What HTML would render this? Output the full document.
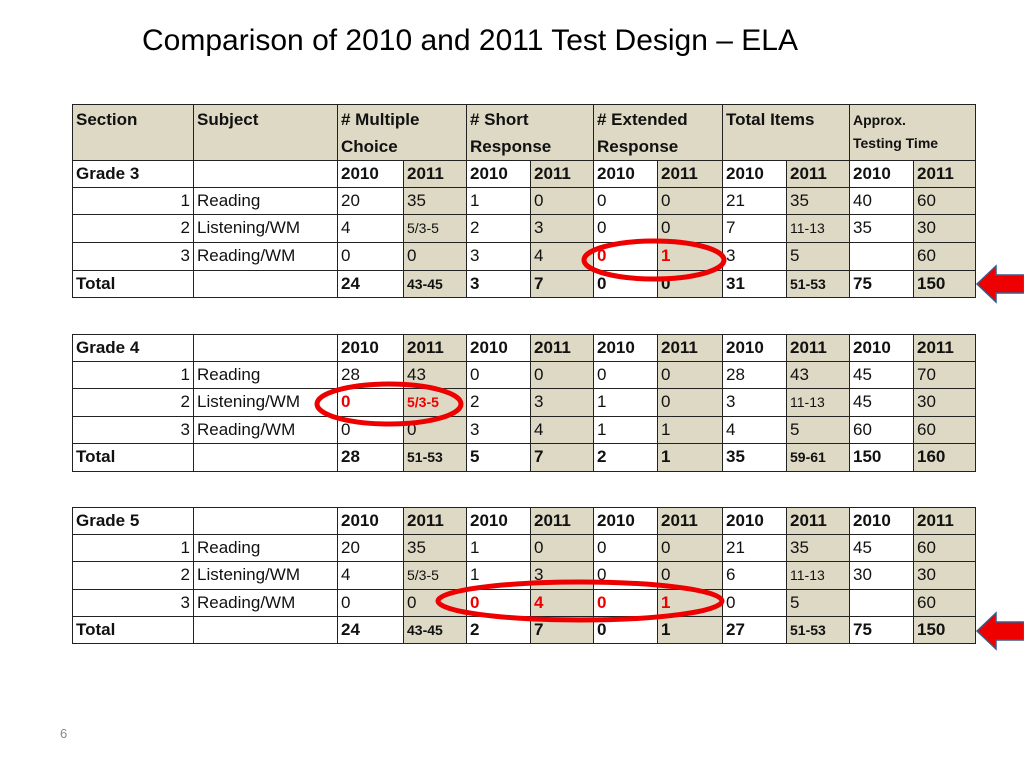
<!DOCTYPE html>
<html><head><meta charset="utf-8"><style>
body{margin:0;width:1024px;height:768px;background:#fff;position:relative;overflow:hidden;font-family:"Liberation Sans",sans-serif}
.title{position:absolute;left:0;width:940px;top:24px;text-align:center;font-size:30px;color:#000}
.c{position:absolute;box-sizing:border-box;border:1px solid #222;font-size:17px;padding:1px 3px;color:#111;line-height:24px;overflow:hidden;white-space:nowrap}
.sh{background:#ddd9c4}
.b{font-weight:bold}
.r{color:#e00;font-weight:bold}
.n{position:absolute;left:60px;top:726px;font-size:13px;color:#888}
</style></head><body>
<div class="title">Comparison of 2010 and 2011 Test Design – ELA</div>
<div id="wrap"></div>
<svg style="position:absolute;left:0;top:0" width="1024" height="768">
<ellipse cx="654" cy="260" rx="70" ry="19" fill="none" stroke="#e00" stroke-width="5"/>
<ellipse cx="389" cy="404" rx="72" ry="20" fill="none" stroke="#e00" stroke-width="5"/>
<ellipse cx="580" cy="601" rx="142" ry="19" fill="none" stroke="#e00" stroke-width="5"/>
<polygon points="977,284 996,266 996,275 1024,275 1024,293 996,293 996,302" fill="#e00" stroke="#3a5a8a" stroke-width="1.5"/>
<polygon points="977,631 996,613 996,622 1024,622 1024,640 996,640 996,649" fill="#e00" stroke="#3a5a8a" stroke-width="1.5"/>
</svg>
<div class="n">6</div>
<script>
const xs=[72,193,337,403,466,530,593,657,722,786,849,913,975];
const grades=["Grade 3","Grade 4","Grade 5"];
const rowsY=[[160,187,214,242,270,297],[334,361,388,416,443,471],[507,534,561,589,616,643]];
const subjects=["Reading","Listening/WM","Reading/WM"];
const g3=[["20","35","1","0","0","0","21","35","40","60"],["4","5/3-5","2","3","0","0","7","11-13","35","30"],["0","0","3","4","0*","1*","3","5","","60"],["24","43-45","3","7","0","0","31","51-53","75","150"]];
const g4=[["28","43","0","0","0","0","28","43","45","70"],["0*","5/3-5*","2","3","1","0","3","11-13","45","30"],["0","0","3","4","1","1","4","5","60","60"],["28","51-53","5","7","2","1","35","59-61","150","160"]];
const g5=[["20","35","1","0","0","0","21","35","45","60"],["4","5/3-5","1","3","0","0","6","11-13","30","30"],["0","0","0*","4*","0*","1*","0","5","","60"],["24","43-45","2","7","0","1","27","51-53","75","150"]];
const data=[g3,g4,g5];
const wrap=document.getElementById('wrap');
function cell(x1,x2,y1,y2,txt,cls,name,align){
  const d=document.createElement('div');
  d.className='c '+(cls||'');
  d.style.left=x1+'px';d.style.top=y1+'px';d.style.width=(x2-x1+1)+'px';d.style.height=(y2-y1+1)+'px';
  if(align)d.style.textAlign=align;
  if(txt.endsWith('*')){txt=txt.slice(0,-1);d.classList.add('r');}
  if(txt.length>3&&txt.indexOf('-')>=0){d.style.fontSize='14px';}
  d.textContent=txt;
  
  
  wrap.appendChild(d);
}
const heads=[["Section",0,1],["Subject",1,2],["# Multiple\nChoice",2,4],["# Short\nResponse",4,6],["# Extended\nResponse",6,8],["Total Items",8,10],["Approx.\nTesting Time",10,12]];
heads.forEach((h,i)=>{
  const d=document.createElement('div');d.className='c sh b';
  d.style.left=xs[h[1]]+'px';d.style.top='104px';d.style.width=(xs[h[2]]-xs[h[1]]+1)+'px';d.style.height='57px';
  d.style.whiteSpace='pre';d.style.lineHeight='27px';
  if(i==6){d.style.fontSize='14px';d.style.lineHeight='23px';d.style.paddingTop='4px';}
  d.textContent=h[0];
  
  
  wrap.appendChild(d);
});
data.forEach((g,t)=>{
  const ys=rowsY[t];
  cell(xs[0],xs[1],ys[0],ys[1],grades[t],'b','grade-label');
  cell(xs[1],xs[2],ys[0],ys[1],'','','grade-blank');
  for(let k=0;k<10;k++)cell(xs[2+k],xs[3+k],ys[0],ys[1],k%2?'2011':'2010',(k%2?'sh ':'')+'b','year-header');
  for(let r=0;r<4;r++){
    const tot=r==3;
    cell(xs[0],xs[1],ys[r+1],ys[r+2],tot?'Total':String(r+1),tot?'b':'','section-cell',tot?'left':'right');
    cell(xs[1],xs[2],ys[r+1],ys[r+2],tot?'':subjects[r],'','subject-cell');
    for(let k=0;k<10;k++)cell(xs[2+k],xs[3+k],ys[r+1],ys[r+2],g[r][k],(k%2?'sh ':'')+(tot?'b':''),'value-cell');
  }
});
</script>
</body></html>
